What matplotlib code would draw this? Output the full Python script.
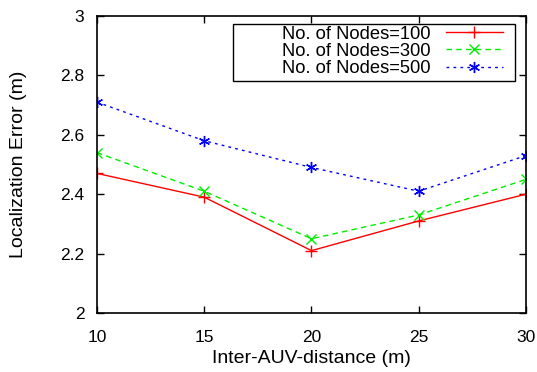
import matplotlib
matplotlib.use("Agg")
import matplotlib.pyplot as plt
from matplotlib.patches import Rectangle

x = [10, 15, 20, 25, 30]
nodes100 = [2.47, 2.39, 2.21, 2.31, 2.40]
nodes300 = [2.54, 2.41, 2.25, 2.33, 2.45]
nodes500 = [2.71, 2.58, 2.49, 2.41, 2.53]
labels = ["No. of Nodes=100", "No. of Nodes=300", "No. of Nodes=500"]
xticks = [10, 15, 20, 25, 30]
yticks = [2, 2.2, 2.4, 2.6, 2.8, 3]

plt.rcParams['font.family'] = ['Liberation Sans', 'DejaVu Sans']

fig = plt.figure(figsize=(5.37, 3.72), dpi=100)
ax = fig.add_axes([0.1806, 0.1586, 0.7989, 0.7984])

ax.plot(x, nodes100, color='#ff0000', linestyle='-', marker='+', markersize=8, lw=1.0, label=labels[0])
ax.plot(x, nodes300, color='#00ee00', linestyle=(0, (4, 3)), marker='x', markersize=7, lw=1.0, label=labels[1])
ax.plot(x, nodes500, color='#0000ff', linestyle=(0, (2, 3)), marker=(6, 2, 0), markersize=8, lw=1.0, label=labels[2])

ax.set_xlim(10, 30)
ax.set_ylim(2, 3)
ax.set_xticks(xticks)
ax.set_xticklabels([str(v) for v in xticks])
ax.set_yticks(yticks)
ax.set_yticklabels(['2', '2.2', '2.4', '2.6', '2.8', '3'])
ax.tick_params(direction='in', length=5, width=1, top=True, right=True, labelsize=12.5)
ax.tick_params(axis='x', pad=12)
ax.tick_params(axis='y', pad=9)
for s in ax.spines.values():
    s.set_linewidth(1.2)

ax.set_xlabel("Inter-AUV-distance (m)", fontsize=14, labelpad=4)
ax.set_ylabel("Localization Error (m)", fontsize=14, labelpad=24)

ax.add_patch(Rectangle((0.317, 0.781), 0.657, 0.192, transform=ax.transAxes,
                       facecolor='white', edgecolor='black', lw=1.0, zorder=4))
leg = ax.legend(loc='upper right', bbox_to_anchor=(0.946, 0.968), markerfirst=False,
                fontsize=13.2, frameon=False, handlelength=3.1,
                borderpad=0, labelspacing=0.02, handletextpad=0.83, borderaxespad=0)
leg.set_zorder(5)

fig.savefig("out.png", dpi=100)
